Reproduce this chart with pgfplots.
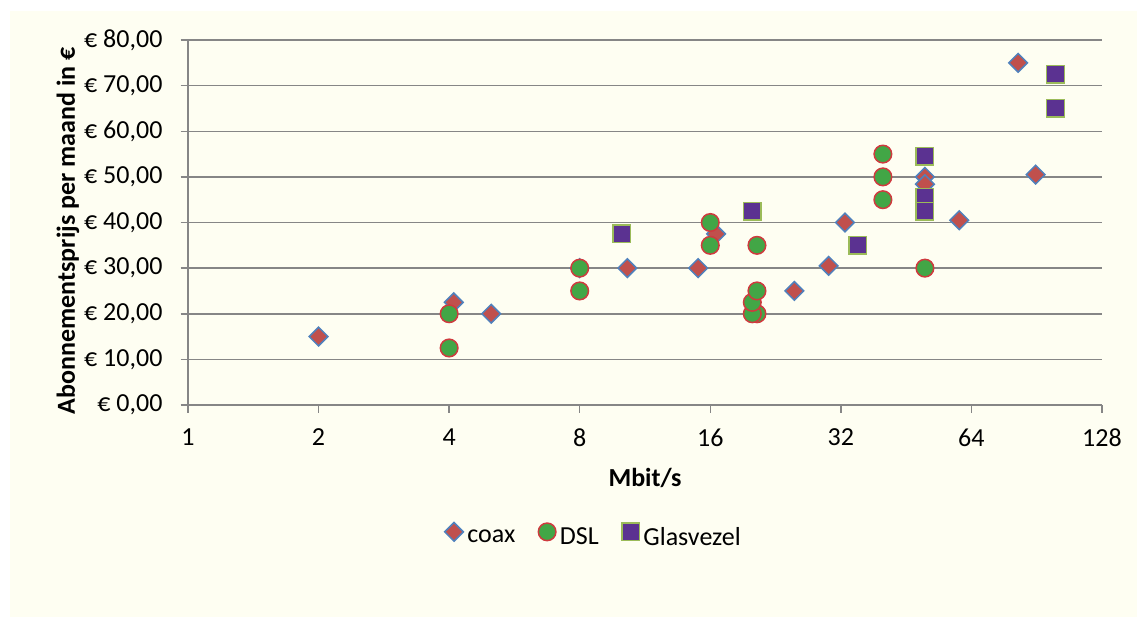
\documentclass[border=0pt]{standalone}
\usepackage{fontspec}
\setmainfont{Carlito}
\usepackage{pgfplots}
\pgfplotsset{compat=1.18}
\definecolor{cream}{HTML}{FEFEF2}
\definecolor{gridgray}{HTML}{868686}
\definecolor{coaxfill}{HTML}{C0504D}
\definecolor{coaxedge}{HTML}{4F81BD}
\definecolor{dslfill}{HTML}{42A646}
\definecolor{dsledge}{HTML}{CF3A3E}
\definecolor{glfill}{HTML}{5B3291}
\definecolor{gledge}{HTML}{9BBB59}
\begin{document}
\fontsize{13pt}{15.6pt}\selectfont
\begin{tikzpicture}
\fill[white] (-94pt,-106pt) rectangle (474.5pt,202.5pt);
\fill[cream] (-89pt,-106pt) rectangle (474.5pt,197pt);
\begin{axis}[
  scale only axis, width=457pt, height=182.5pt,
  xmode=log, log basis x=2,
  xmin=1, xmax=128, ymin=0, ymax=80,
  xtick={1,2,4,8,16,32,64,128},
  xticklabels={1,2,4,8,16,32,64,128},
  minor xtick={}, xminorticks=false,
  ytick={0,10,20,30,40,50,60,70,80},
  yticklabels={{€ 0,00},{€ 10,00},{€ 20,00},{€ 30,00},{€ 40,00},{€ 50,00},{€ 60,00},{€ 70,00},{€ 80,00}},
  xticklabel style={yshift=-3.5pt},
  yticklabel style={xshift=-4.5pt},
  axis x line*=bottom, axis y line*=left,
  axis line style={draw=gridgray, line width=0.75pt},
  tick align=outside, major tick length=3.75pt,
  tick style={draw=gridgray, line width=0.75pt},
  ymajorgrids, grid style={draw=gridgray, line width=0.75pt},
  xlabel={\bfseries Mbit/s},
  ylabel={\bfseries Abonnementsprijs per maand in €},
  xlabel style={at={(axis description cs:0.5,-0.2)}, anchor=center},
  ylabel style={at={(axis description cs:-0.1313,0.477)}, anchor=center},
  legend columns=3,
  legend style={at={(0.445,-0.364)}, anchor=center, draw=none, fill=none,
    /tikz/every even column/.append style={column sep=9.5pt}},
  legend image code/.code={\draw[#1] plot coordinates {(0pt,3.2pt)};},
  clip=false,
]
\addplot[only marks, mark=square*, mark size=3.3pt,
  mark options={rotate=45, fill=coaxfill, draw=coaxedge, line width=0.75pt}]
  coordinates {(2,15) (4.1,22.5) (5,20) (8,30) (10.3,30) (15,30) (16.5,37.5)
  (25,25) (30,30.5) (32.7,40) (50,50) (50,48.4) (60,40.5) (82,75) (90,50.5)};
\addlegendentry{coax}
\addplot[only marks, mark=*, mark size=4.4pt,
  mark options={fill=dslfill, draw=dsledge, line width=0.75pt}]
  coordinates {(4,20) (4,12.5) (8,30) (8,25) (16,40) (16,35) (20.5,35) (20.5,20)
  (20,20) (20,22.5) (20.5,25) (40,55) (40,50) (40,45) (50,30)};
\addlegendentry{DSL}
\addplot[only marks, mark=square*, mark size=4.4pt,
  mark options={fill=glfill, draw=gledge, line width=0.75pt}]
  coordinates {(10,37.5) (20,42.5) (35,35) (50,54.5) (50,45.5) (50,42.5) (100,72.5) (100,65)};
\addlegendentry{Glasvezel}
\end{axis}
\pgfresetboundingbox
\useasboundingbox (-94pt,-106pt) rectangle (474.5pt,202.5pt);
\end{tikzpicture}
\end{document}
